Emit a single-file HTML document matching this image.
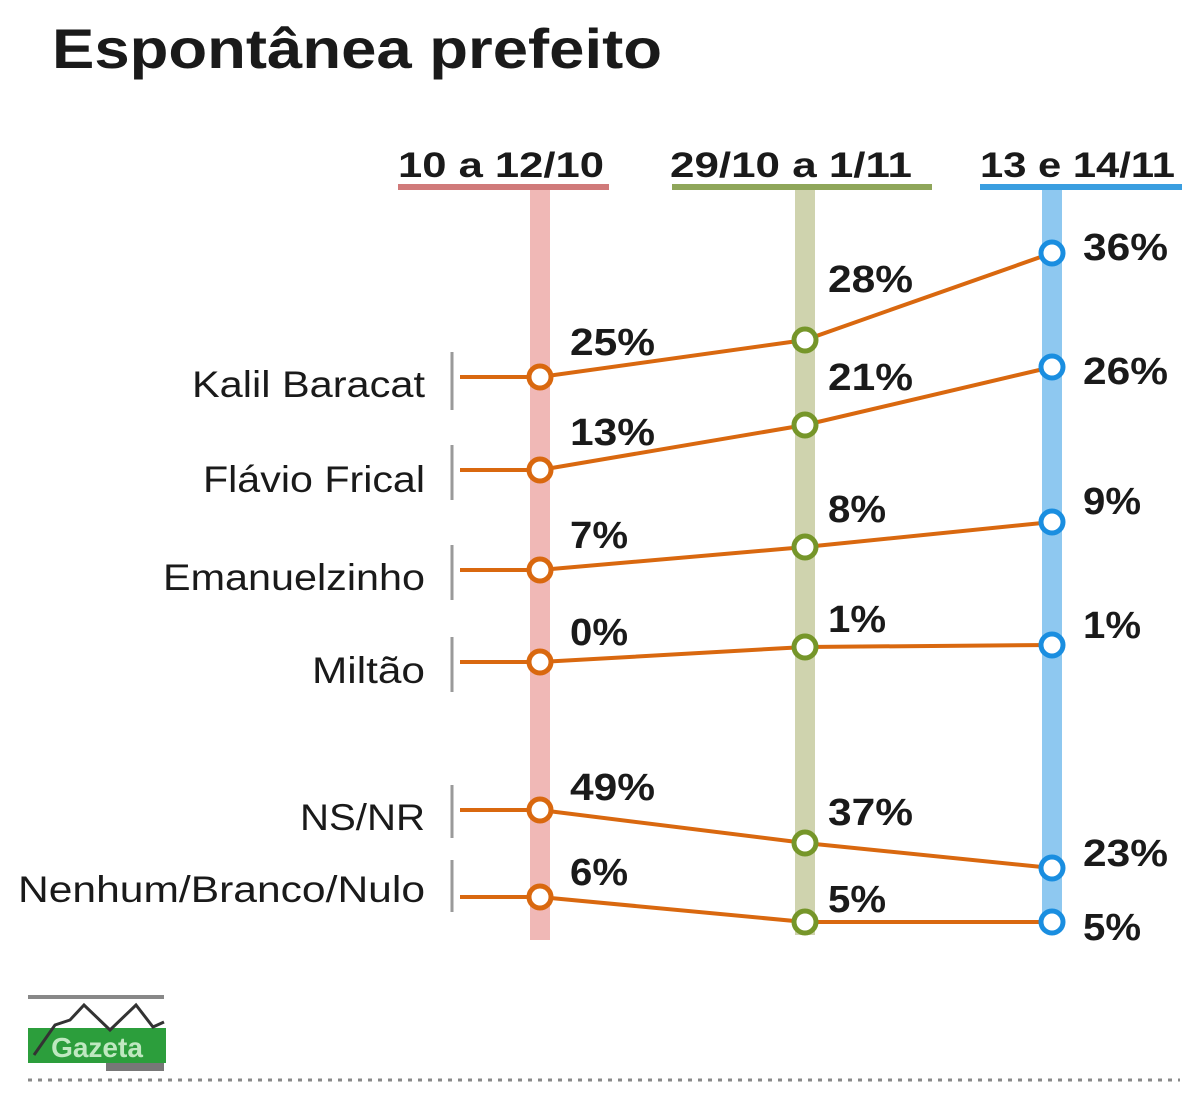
<!DOCTYPE html>
<html><head><style>body{margin:0;background:#fff}svg{display:block}</style></head><body>
<svg width="1200" height="1101" viewBox="0 0 1200 1101" xmlns="http://www.w3.org/2000/svg" font-family="Liberation Sans, sans-serif">
<text x="52" y="68" font-size="56" font-weight="bold" fill="#1a1a1a" textLength="610" lengthAdjust="spacingAndGlyphs">Espontânea prefeito</text>
<g font-size="35" font-weight="bold" fill="#1a1a1a" lengthAdjust="spacingAndGlyphs">
<text x="398" y="177" textLength="206" lengthAdjust="spacingAndGlyphs">10 a 12/10</text>
<text x="670" y="177" textLength="242" lengthAdjust="spacingAndGlyphs">29/10 a 1/11</text>
<text x="980" y="177" textLength="195" lengthAdjust="spacingAndGlyphs">13 e 14/11</text>
</g>
<rect x="398" y="184" width="211" height="6" fill="#d07a7a"/>
<rect x="672" y="184" width="260" height="6" fill="#8fa65a"/>
<rect x="980" y="184" width="202" height="6" fill="#3a9ee0"/>
<rect x="530" y="190" width="20" height="750" fill="#f0b8b6"/>
<rect x="795" y="190" width="20" height="745" fill="#cfd3ae"/>
<rect x="1042" y="190" width="20" height="735" fill="#8ec8f0"/>
<g stroke="#9a9a9a" stroke-width="3">
<line x1="452" y1="352" x2="452" y2="410"/><line x1="452" y1="445" x2="452" y2="500"/>
<line x1="452" y1="545" x2="452" y2="600"/><line x1="452" y1="637" x2="452" y2="692"/>
<line x1="452" y1="785" x2="452" y2="838"/><line x1="452" y1="860" x2="452" y2="912"/>
</g>
<g font-size="37" fill="#1a1a1a">
<text x="192" y="397" textLength="233" lengthAdjust="spacingAndGlyphs">Kalil Baracat</text>
<text x="203" y="492" textLength="222" lengthAdjust="spacingAndGlyphs">Flávio Frical</text>
<text x="163" y="590" textLength="262" lengthAdjust="spacingAndGlyphs">Emanuelzinho</text>
<text x="312" y="683" textLength="113" lengthAdjust="spacingAndGlyphs">Miltão</text>
<text x="300" y="830" textLength="125" lengthAdjust="spacingAndGlyphs">NS/NR</text>
<text x="18" y="902" textLength="407" lengthAdjust="spacingAndGlyphs">Nenhum/Branco/Nulo</text>
</g>
<g stroke="#d9680f" stroke-width="4" fill="none">
<polyline points="460,377 540,377 805,340 1052,253"/>
<polyline points="460,470 540,470 805,425 1052,367"/>
<polyline points="460,570 540,570 805,547 1052,522"/>
<polyline points="460,662 540,662 805,647 1052,645"/>
<polyline points="460,810 540,810 805,843 1052,868"/>
<polyline points="460,897 540,897 805,922 1052,922"/>
</g>
<g fill="#fff" stroke-width="5">
<g stroke="#d9680f"><circle cx="540" cy="377" r="11"/><circle cx="540" cy="470" r="11"/><circle cx="540" cy="570" r="11"/><circle cx="540" cy="662" r="11"/><circle cx="540" cy="810" r="11"/><circle cx="540" cy="897" r="11"/></g>
<g stroke="#76962a"><circle cx="805" cy="340" r="11"/><circle cx="805" cy="425" r="11"/><circle cx="805" cy="547" r="11"/><circle cx="805" cy="647" r="11"/><circle cx="805" cy="843" r="11"/><circle cx="805" cy="922" r="11"/></g>
<g stroke="#1a8ee0"><circle cx="1052" cy="253" r="11"/><circle cx="1052" cy="367" r="11"/><circle cx="1052" cy="522" r="11"/><circle cx="1052" cy="645" r="11"/><circle cx="1052" cy="868" r="11"/><circle cx="1052" cy="922" r="11"/></g>
</g>
<g font-size="38" font-weight="bold" fill="#1a1a1a">
<text x="570" y="355" textLength="85" lengthAdjust="spacingAndGlyphs">25%</text><text x="570" y="445" textLength="85" lengthAdjust="spacingAndGlyphs">13%</text><text x="570" y="548" textLength="58" lengthAdjust="spacingAndGlyphs">7%</text><text x="570" y="645" textLength="58" lengthAdjust="spacingAndGlyphs">0%</text><text x="570" y="800" textLength="85" lengthAdjust="spacingAndGlyphs">49%</text><text x="570" y="885" textLength="58" lengthAdjust="spacingAndGlyphs">6%</text>
<text x="828" y="292" textLength="85" lengthAdjust="spacingAndGlyphs">28%</text><text x="828" y="390" textLength="85" lengthAdjust="spacingAndGlyphs">21%</text><text x="828" y="522" textLength="58" lengthAdjust="spacingAndGlyphs">8%</text><text x="828" y="632" textLength="58" lengthAdjust="spacingAndGlyphs">1%</text><text x="828" y="825" textLength="85" lengthAdjust="spacingAndGlyphs">37%</text><text x="828" y="912" textLength="58" lengthAdjust="spacingAndGlyphs">5%</text>
<text x="1083" y="260" textLength="85" lengthAdjust="spacingAndGlyphs">36%</text><text x="1083" y="384" textLength="85" lengthAdjust="spacingAndGlyphs">26%</text><text x="1083" y="514" textLength="58" lengthAdjust="spacingAndGlyphs">9%</text><text x="1083" y="638" textLength="58" lengthAdjust="spacingAndGlyphs">1%</text><text x="1083" y="866" textLength="85" lengthAdjust="spacingAndGlyphs">23%</text><text x="1083" y="940" textLength="58" lengthAdjust="spacingAndGlyphs">5%</text>
</g>
<rect x="28" y="995" width="136" height="4" fill="#888"/>
<rect x="28" y="1028" width="138" height="35" fill="#2c9e3c"/>
<text x="97" y="1057" font-size="28" font-weight="bold" fill="#bfe8c0" text-anchor="middle">Gazeta</text>
<polyline points="34,1055 55,1025 70,1020 84,1005 110,1030 136,1005 153,1027 164,1022" fill="none" stroke="#333" stroke-width="3"/>
<rect x="106" y="1063" width="58" height="8" fill="#777"/>
<line x1="28" y1="1080" x2="1180" y2="1080" stroke="#888" stroke-width="3" stroke-dasharray="4,6"/>
</svg>
</body></html>
